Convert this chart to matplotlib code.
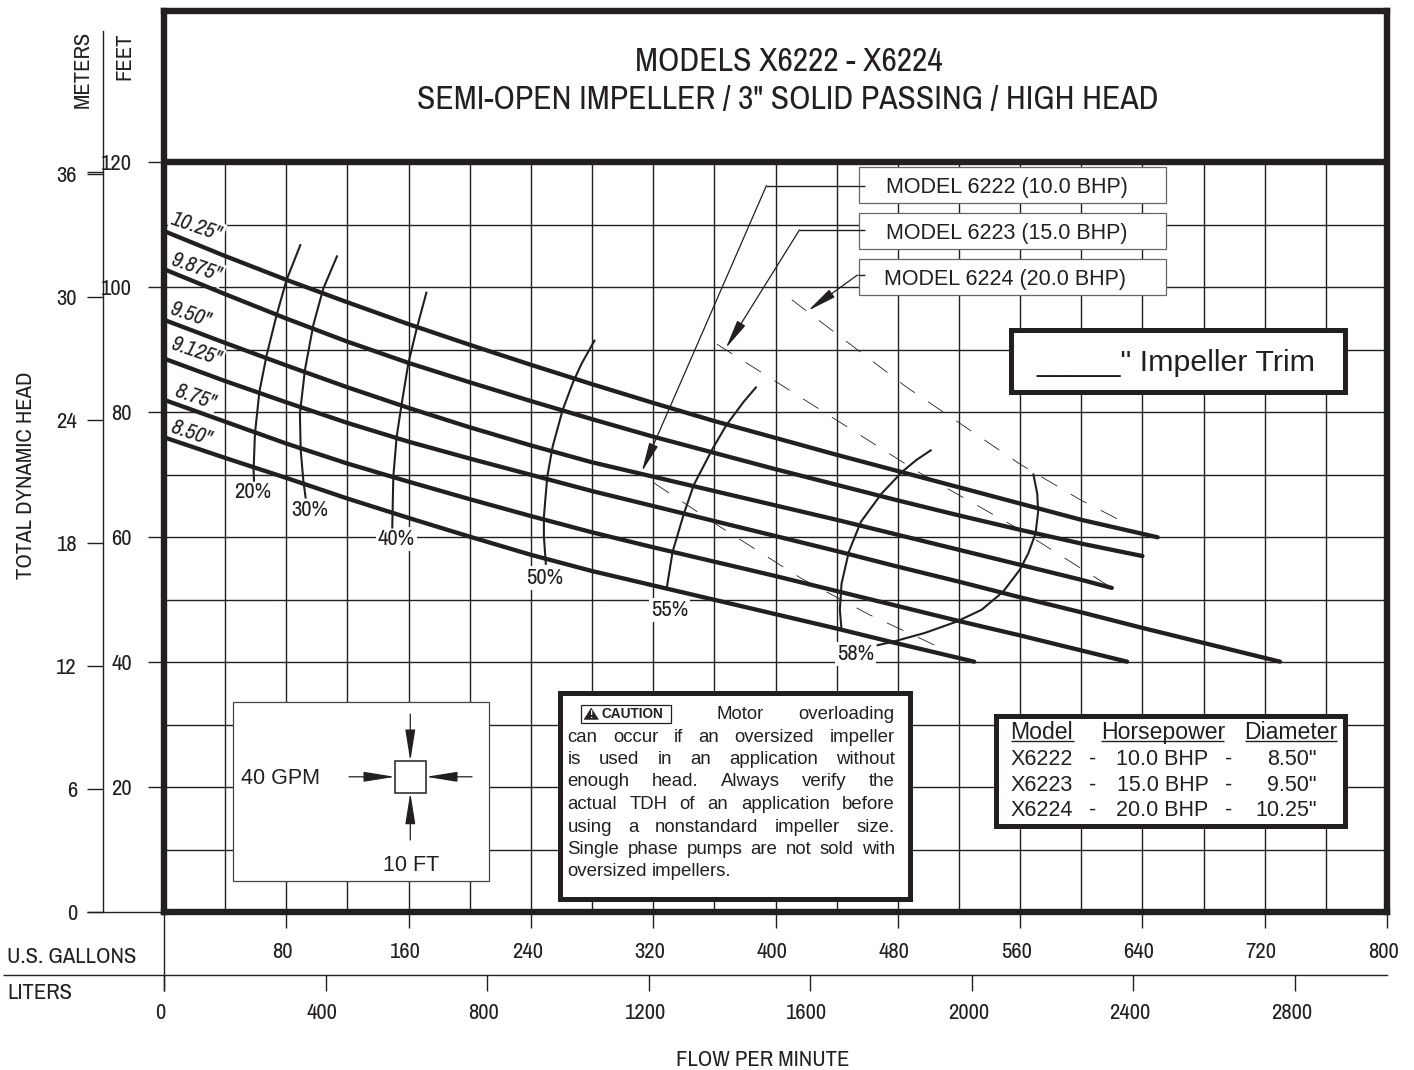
import matplotlib
matplotlib.use("Agg")
import matplotlib.pyplot as plt
from matplotlib.patches import Rectangle, Polygon
from matplotlib.transforms import Affine2D, ScaledTranslation

plt.rcParams['lines.scale_dashes'] = False
INK = '#231f20'
NARROW = ['Archivo Narrow', 'Liberation Sans', 'DejaVu Sans']
WIDE = ['Liberation Sans', 'DejaVu Sans']
plt.rcParams['font.family'] = NARROW
NFS = 16.3

# ---------- data ----------
gpm_grid = [40, 80, 120, 160, 200, 240, 280, 320, 360, 400, 440, 480, 520, 560, 600, 640, 680, 720, 760]
ft_grid = [10, 20, 30, 40, 50, 60, 70, 80, 90, 100, 110]
gpm_ticks = [80, 160, 240, 320, 400, 480, 560, 640, 720, 800]
liter_ticks = [0, 400, 800, 1200, 1600, 2000, 2400, 2800]
feet_ticks = [20, 40, 60, 80, 100, 120]
meter_ticks = [0, 6, 12, 18, 24, 30, 36]

q_common = [0, 40, 80, 120, 160, 200, 240, 280, 320, 360, 400, 440, 480, 520, 560, 600]
q_1025 = q_common + [650]
h_1025 = [109, 105, 101.2, 97.6, 94.1, 90.8, 87.6, 84.5, 81.5, 78.6, 75.9, 73.2, 70.6, 68, 65.4, 62.8, 60]
q_9875 = q_common + [640]
h_9875 = [102.9, 98.9, 95, 91.3, 87.9, 84.8, 81.8, 78.9, 76.1, 73.5, 70.9, 68.4, 65.9, 63.5, 61.2, 59, 57]
q_950 = q_common + [620]
h_950 = [94.8, 91.1, 87.5, 84, 80.7, 77.6, 74.7, 72, 69.7, 67.4, 65.1, 62.8, 60.4, 58, 55.6, 53.2, 51.9]
q_9125 = q_common + [640, 680, 730]
h_9125 = [88.6, 85, 81.6, 78.3, 75.3, 72.6, 70, 67.4, 65, 62.6, 60.2, 57.8, 55.3, 52.9, 50.4, 48, 45.5, 43.1, 40.1]
q_875 = q_common + [630]
h_875 = [82, 78.5, 75, 71.8, 68.9, 66.1, 63.4, 60.8, 58.4, 56.1, 53.8, 51.4, 49, 46.6, 44.3, 41.9, 40.1]
q_850 = [0, 40, 80, 120, 160, 200, 240, 280, 320, 360, 400, 440, 480, 530]
h_850 = [76, 72.7, 69.5, 66.2, 63.1, 60.1, 57.2, 54.6, 52.3, 50, 47.7, 45.4, 43, 40.1]
impeller_curves = [(q_1025, h_1025), (q_9875, h_9875), (q_950, h_950),
                   (q_9125, h_9125), (q_875, h_875), (q_850, h_850)]
impeller_names = ['10.25"', '9.875"', '9.50"', '9.125"', '8.75"', '8.50"']
impeller_label_q = [21.6, 21, 17.8, 21, 20.3, 17.8]
impeller_label_h = [109.6, 103.1, 95.6, 89.6, 82.5, 76.7]

eff_20_q = [89.4, 80.2, 73.7, 67.2, 62.4, 59.5, 58.6, 58.9]
eff_20_h = [106.9, 101.2, 95.6, 89.2, 83.3, 76.6, 70.8, 68.9]
eff_30_q = [113.4, 104.2, 97.7, 92.2, 88.9, 89.4, 91.1, 92.7]
eff_30_h = [105.1, 99.8, 94, 86.8, 79.8, 74, 69.2, 66.2]
eff_40_q = [171.8, 165.3, 159.8, 155.5, 152.2, 150, 149.3]
eff_40_h = [99.3, 93.4, 87.8, 81.4, 76.1, 69.7, 61.4]
eff_50_q = [281.9, 273.2, 267.7, 260.8, 254.2, 250.7, 248.5, 248.5, 249.8]
eff_50_h = [91.6, 87.8, 84.9, 80.4, 74.5, 69.7, 63.3, 60.1, 55.6]
eff_55_q = [387.6, 378.9, 368, 358.9, 346.6, 340.1, 332.7, 328.8]
eff_55_h = [84.1, 81.6, 78, 74.2, 68.4, 63.8, 57.7, 51.8]
eff_58a_q = [502.1, 492.3, 482.9, 469.4, 455.9, 448, 443.2, 442.1, 443.2]
eff_58a_h = [74, 72.4, 70.5, 67, 62.5, 57.7, 52.6, 48.4, 45.2]
eff_58b_q = [568.6, 571.2, 571.8, 570.1, 565.3, 559.8, 548.9, 534.8, 518.4, 497.7, 477, 466.1]
eff_58b_h = [70.2, 67, 64.1, 60.6, 57.4, 54.8, 51.3, 48.4, 46.5, 44.7, 43.3, 42.7]
eff_curves = [(eff_20_q, eff_20_h), (eff_30_q, eff_30_h), (eff_40_q, eff_40_h), (eff_50_q, eff_50_h),
              (eff_55_q, eff_55_h), (eff_58a_q, eff_58a_h), (eff_58b_q, eff_58b_h)]
eff_names = ['20%', '30%', '40%', '50%', '55%', '58%']
eff_label_q = [58, 95.5, 152, 249.2, 330.5, 452.3]
eff_label_h = [67.3, 64.3, 59.7, 53.5, 48.4, 41.3]

bhp_6224_q = [410.7, 485.3, 560, 599.4, 629.5]
bhp_6224_h = [98, 84.1, 71.7, 66, 62.2]
bhp_6223_q = [361.7, 434.5, 493, 560, 620]
bhp_6223_h = [90.9, 79.6, 70.5, 61.2, 51.9]
bhp_6222_q = [320.5, 361.7, 417, 461.5, 509]
bhp_6222_h = [68.7, 62, 53.4, 47.6, 42.2]
bhp_curves = [(bhp_6222_q, bhp_6222_h), (bhp_6223_q, bhp_6223_h), (bhp_6224_q, bhp_6224_h)]

model_labels = ['MODEL 6222 (10.0 BHP)', 'MODEL 6223 (15.0 BHP)', 'MODEL 6224 (20.0 BHP)']
table_models = ['X6222', 'X6223', 'X6224']
table_hp = ['10.0 BHP', '15.0 BHP', '20.0 BHP']
table_dia = ['8.50"', '9.50"', '10.25"']
caution_lines = ['Motor overloading',
                 'can occur if an oversized impeller',
                 'is used in an application without',
                 'enough head. Always verify the',
                 'actual TDH of an application before',
                 'using a nonstandard impeller size.',
                 'Single phase pumps are not sold with',
                 'oversized impellers.']

# ---------- figure ----------
W, H = 1414, 1070
fig = plt.figure(figsize=(W / 100, H / 100), dpi=100, facecolor='white')
L, R, T, B = 164, 1387, 11, 912.3
ax = fig.add_axes([L / W, 1 - B / H, (R - L) / W, (B - T) / H])
ax.set_xlim(0, 800)
ax.set_ylim(0, (B - T) / 6.25)
for s in ax.spines.values():
    s.set_linewidth(4.6)
    s.set_color(INK)
    s.set_zorder(6)
pix = Affine2D().scale(1, -1).translate(0, H)


def pline(xs, ys, lw=1.0, color=INK, z=2, **kw):
    ax.plot(xs, ys, transform=pix, clip_on=False, lw=lw, color=color, zorder=z,
            solid_capstyle='butt', **kw)


def ptext(x, y, s, fs=NFS, family=None, ha='left', va='center', z=7, **kw):
    return ax.text(x, y, s, transform=pix, fontsize=fs, family=family or NARROW, ha=ha, va=va,
                   color=INK, zorder=z, clip_on=False, **kw)


def pbox(x0, y0, x1, y1, lw=1.0, ec=INK, z=5):
    ax.add_patch(Rectangle((x0, y0), x1 - x0, y1 - y0, transform=pix, fc='white', ec=ec, lw=lw,
                           zorder=z, clip_on=False))


def parrow(x0, y0, x1, y1, hl=1.8, hw=0.29, lw=0.9, z=6):
    ax.annotate('', xy=(x1, y1), xytext=(x0, y0), xycoords=pix, textcoords=pix, zorder=z,
                arrowprops=dict(arrowstyle=f'-|>,head_length={hl},head_width={hw}', mutation_scale=10,
                                lw=lw, color=INK, fc=INK, shrinkA=0, shrinkB=0))


# grid
ax.vlines(gpm_grid, 0, 120, color=INK, lw=1.0, zorder=1)
ax.hlines(ft_grid, 0, 800, color=INK, lw=1.0, zorder=1)
ax.hlines([120], 0, 800, color=INK, lw=4.6, zorder=6)

# main axes ticks
ax.set_xticks(gpm_ticks, [str(v) for v in gpm_ticks])
ax.set_yticks(feet_ticks, [str(v) for v in feet_ticks])
ax.tick_params(axis='x', length=11.5, width=1.0, pad=10, labelsize=NFS, colors=INK)
ax.tick_params(axis='y', length=11.5, width=1.0, pad=11.5, labelsize=NFS, colors=INK)
off = ScaledTranslation(-3.5 / 100, 0, fig.dpi_scale_trans)
for lab in ax.get_xticklabels():
    lab.set_transform(lab.get_transform() + off)

# meters axis
sec_y = ax.secondary_yaxis((103 - L) / (R - L), functions=(lambda f: f / 3.28, lambda m: m * 3.28))
sec_y.set_yticks(meter_ticks, [str(v) for v in meter_ticks])
sec_y.tick_params(length=11.5, width=1.0, pad=7.2, labelsize=NFS, colors=INK)
sec_y.spines['left'].set_bounds(0, (B - 31) / 6.25 / 3.28)
sec_y.spines['left'].set_linewidth(1.0)
sec_y.spines['left'].set_color(INK)

# liters axis
sec_x = ax.secondary_xaxis((B - 975) / (B - T), functions=(lambda g: g * 3.785, lambda l: l / 3.785))
sec_x.set_xticks(liter_ticks, [str(v) for v in liter_ticks])
sec_x.tick_params(length=11.5, width=1.0, pad=8.6, labelsize=NFS, colors=INK)
sec_x.spines['bottom'].set_linewidth(1.0)
sec_x.spines['bottom'].set_color(INK)
for lab in sec_x.get_xticklabels():
    lab.set_transform(lab.get_transform() + off)

pline([3, 164], [975, 975])
pline([164, 164], [912, 991])
pline([87, 164], [912.3, 912.3])
pline([87, 103], [172, 172])

# axis captions
ptext(82.5, 69, 'METERS', rotation=90, ha='center')
ptext(124.5, 56, 'FEET', rotation=90, ha='center')
ptext(26, 475, 'TOTAL DYNAMIC HEAD', rotation=90, ha='center')
ptext(7, 957, 'U.S. GALLONS')
ptext(7, 993, 'LITERS')
ptext(763, 1060, 'FLOW PER MINUTE', ha='center')

# title
ptext(789, 62, 'MODELS X6222 - X6224', fs=24.2, ha='center')
ptext(788, 100, 'SEMI-OPEN IMPELLER / 3" SOLID PASSING / HIGH HEAD', fs=24.1, ha='center')

# curves
for q, h in impeller_curves:
    ax.plot(q, h, color=INK, lw=3.1, zorder=3, solid_capstyle='round', solid_joinstyle='round')
for q, h in eff_curves:
    ax.plot(q, h, color=INK, lw=1.5, zorder=3, solid_capstyle='butt', solid_joinstyle='round')
for q, h in bhp_curves:
    ax.plot(q, h, color=INK, lw=0.6, zorder=2.6, linestyle=(0, (13, 11.5)))

wbox = dict(facecolor='white', edgecolor='none', pad=1.5)
for name, q, h in zip(impeller_names, impeller_label_q, impeller_label_h):
    ax.text(q, h, name, style='italic', fontsize=16, rotation=-19, ha='center', va='center',
            rotation_mode='anchor', color=INK, zorder=2.5, bbox=wbox)
for name, q, h in zip(eff_names, eff_label_q, eff_label_h):
    ax.text(q, h, name, fontsize=NFS, ha='center', va='center', color=INK, zorder=2.5, bbox=wbox)

# model label boxes and leaders
for (y0, y1, tx, by, label) in zip([167, 213, 258.5], [203, 249, 294.5], [885.5, 885.5, 883.5],
                                   [193, 238.5, 284.5], model_labels):
    pbox(859, y0, 1166, y1, lw=0.9, ec='#666666')
    ptext(tx, by, label, family=WIDE, fs=15.5, va='baseline')
pline([865, 766.4], [185.7, 185.7], z=6)
parrow(766.4, 185.7, 641.8, 471.7)
pline([865, 799.4], [230, 230], z=6)
parrow(799.4, 230, 725.7, 348.3)
pline([865, 857.5], [275, 275], z=6)
parrow(857.5, 275, 808, 310.7)

# impeller trim box
pbox(1011, 330, 1345, 392, lw=3.6, z=5)
ptext(1036, 370.7, '_____" Impeller Trim', family=WIDE, fs=21.85, va='baseline')

# table
pbox(995.5, 715.5, 1345, 826, lw=3.6)
for x, s in [(1010.5, 'Model'), (1100.7, 'Horsepower'), (1244.5, 'Diameter')]:
    ptext(x, 739.3, s, family=WIDE, fs=16.6, va='baseline')
for a, b in [(1010.5, 1074), (1100.7, 1224), (1244.5, 1336.5)]:
    pline([a, b], [741, 741], z=7)
for y, m, hp, d in zip([765, 790.7, 816], table_models, table_hp, table_dia):
    ptext(1010.5, y, m, family=WIDE, fs=15.5, va='baseline')
    ptext(1092.7, y, '-', family=WIDE, fs=15.5, ha='center', va='baseline')
    ptext(1162.5, y, hp, family=WIDE, fs=15.5, ha='center', va='baseline')
    ptext(1228.7, y, '-', family=WIDE, fs=15.5, ha='center', va='baseline')
    ptext(1316.7, y, d, family=WIDE, fs=15.5, ha='right', va='baseline')

# caution box
pbox(559.5, 693, 909.5, 899, lw=3.6)
pbox(580.7, 705.3, 670.7, 722.7, lw=0.9, z=6)
ax.add_patch(Polygon([(584, 719.5), (598.5, 719.5), (591.2, 708)], closed=True, transform=pix,
                     fc=INK, ec=INK, lw=0.3, zorder=7, clip_on=False))
ptext(591.2, 715.5, '!', family=WIDE, fs=7, ha='center', z=8, weight='bold').set_color('white')
ptext(601, 714.3, 'CAUTION', family=WIDE, fs=9.8, weight='bold')

renderer = fig.canvas.get_renderer()
baselines = [719, 741.7, 764, 786.5, 809, 831.5, 854, 876]
lefts = [716.7] + [567.3] * 7
RIGHT = 894.8
for i, (line, y, x0) in enumerate(zip(caution_lines, baselines, lefts)):
    items = [ptext(x0, y, w, family=WIDE, fs=13.4, va='baseline') for w in line.split()]
    widths = [t.get_window_extent(renderer).width for t in items]
    gap = 5.2 if i == len(caution_lines) - 1 else (RIGHT - x0 - sum(widths)) / (len(items) - 1)
    x = x0
    for t, w in zip(items, widths):
        t.set_position((x, y))
        x += w + gap

# unit box
pbox(232.7, 701.7, 488.7, 881.3, lw=0.9, ec='#444444')
pbox(395, 761, 426, 792.7, lw=1.1, z=6)
ptext(241, 784, '40 GPM', family=WIDE, fs=15.5, va='baseline')
ptext(410.7, 870.7, '10 FT', family=WIDE, fs=15.5, ha='center', va='baseline')
parrow(410.3, 714, 410.3, 761, hl=1.94, hw=0.31)
parrow(410.3, 840, 410.3, 792.7, hl=1.94, hw=0.31)
parrow(349, 776.8, 395, 776.8, hl=1.94, hw=0.31)
parrow(472, 776.8, 426, 776.8, hl=1.94, hw=0.31)

fig.savefig('out.png', dpi=100, facecolor='white')
